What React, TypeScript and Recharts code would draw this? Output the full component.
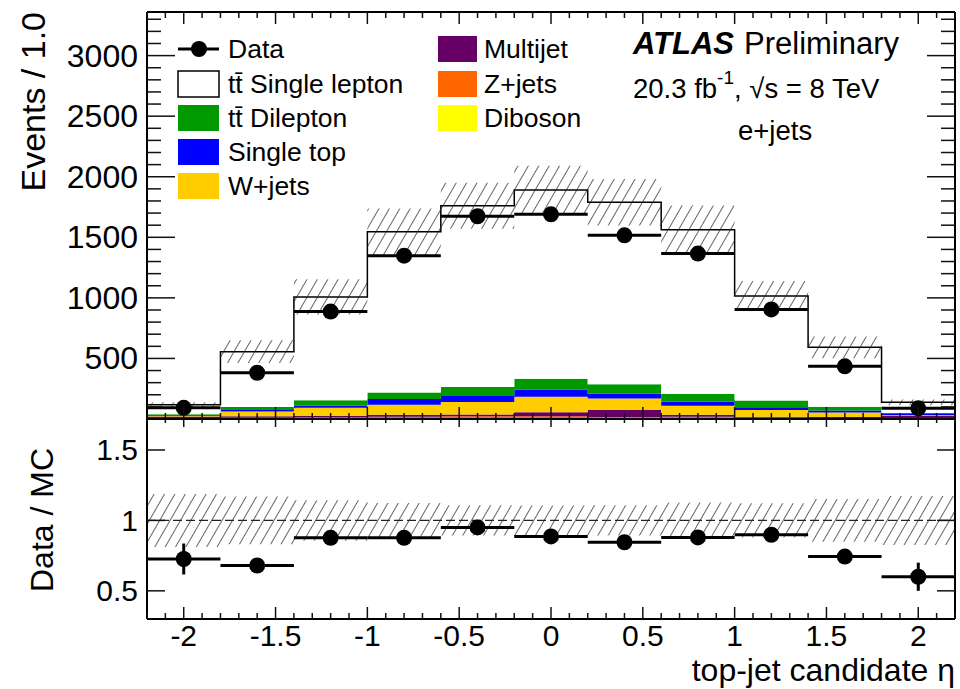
import React from 'react';
import { ComposedChart, Area, Scatter, ErrorBar, XAxis, YAxis, ReferenceLine } from 'recharts';

// ─── Binning: top-jet candidate η, 0.4 wide bins ──────────────────────────────
const binCenters = [-2.0, -1.6, -1.2, -0.8, -0.4, 0.0, 0.4, 0.8, 1.2, 1.6, 2.0];
const binEdges = [-2.2, -1.8, -1.4, -1.0, -0.6, -0.2, 0.2, 0.6, 1.0, 1.4, 1.8, 2.2];

// ─── MC stack (events / bin), bottom → top ────────────────────────────────────
const diboson = [1, 2, 3, 4, 5, 6, 4, 4, 3, 2, 1];
const zJets = [3, 8, 10, 14, 18, 16, 12, 14, 8, 7, 4];
const multijet = [17, 12, 12, 17, 14, 33, 61, 17, 8, 8, 23];
const wJets = [4, 39, 67, 83, 103, 128, 92, 75, 56, 36, 6];
const singleTop = [6, 14, 19, 47, 50, 61, 39, 33, 22, 17, 8];
const ttDilepton = [8, 25, 44, 53, 75, 89, 78, 64, 56, 31, 8];
const ttSingleLepton = [78, 456, 853, 1327, 1495, 1557, 1504, 1355, 862, 491, 88];

// total MC uncertainty (hatched band), absolute events
const mcUncertainty = [22, 94, 145, 192, 190, 200, 192, 200, 124, 90, 24];

// ─── Data ─────────────────────────────────────────────────────────────────────
const dataEvents = [92, 382, 887, 1348, 1674, 1690, 1516, 1366, 905, 435, 88];
const ratioValues = [0.726, 0.68, 0.876, 0.876, 0.95, 0.886, 0.845, 0.879, 0.898, 0.743, 0.6];
const ratioErrors = [0.11, 0.03, 0.02, 0.02, 0.02, 0.02, 0.02, 0.02, 0.02, 0.03, 0.1];

// ─── Tick labels ──────────────────────────────────────────────────────────────
const xMajorTicks = [-2, -1.5, -1, -0.5, 0, 0.5, 1, 1.5, 2];
const xTickLabels = ['-2', '-1.5', '-1', '-0.5', '0', '0.5', '1', '1.5', '2'];
const yTopLabels = [500, 1000, 1500, 2000, 2500, 3000];
const ratioTicks = [0.5, 1, 1.5];
const ratioTickLabels = ['0.5', '1', '1.5'];

// ─── Legend ───────────────────────────────────────────────────────────────────
const legendLeftLabels = ['Data', 'tt\u0304 Single lepton', 'tt\u0304 Dilepton', 'Single top', 'W+jets'];
const legendLeftColors = ['', '#ffffff', '#009a00', '#0000ff', '#ffcc00'];
const legendRightLabels = ['Multijet', 'Z+jets', 'Diboson'];
const legendRightColors = ['#660066', '#ff6600', '#ffff00'];

const FONT = '"Liberation Sans", Arial, Helvetica, sans-serif';

const near = (a: number, b: number) => Math.abs(a - b) < 1e-6;

// minor x ticks every 0.1 over the full range
const xTicks = Array.from({ length: 45 }, (_, i) => Math.round((-2.2 + i * 0.1) * 10) / 10);
const yTopTicks = Array.from({ length: 34 }, (_, i) => i * 100);

// step rows at bin edges (last edge repeats last bin)
const stepRows = binEdges.map((x, i) => {
  const b = Math.min(i, binCenters.length - 1);
  const total =
    diboson[b] + zJets[b] + multijet[b] + wJets[b] + singleTop[b] + ttDilepton[b] + ttSingleLepton[b];
  const rel = mcUncertainty[b] / total;
  return {
    x,
    diboson: diboson[b],
    zJets: zJets[b],
    multijet: multijet[b],
    wJets: wJets[b],
    singleTop: singleTop[b],
    ttDilepton: ttDilepton[b],
    ttSingleLepton: ttSingleLepton[b],
    band: [total - mcUncertainty[b], total + mcUncertainty[b]],
    ratioBand: [1 - rel, 1 + rel],
  };
});

const dataRows = binCenters.map((x, i) => ({ x, y: dataEvents[i], xerr: 0.2 }));
const ratioRows = binCenters.map((x, i) => ({ x, y: ratioValues[i], xerr: 0.2, yerr: ratioErrors[i] }));

// ─── Tick renderers (ROOT style, inward ticks) ────────────────────────────────
const xTickRenderer =
  (side: 'top' | 'bottom', majorLen: number, minorLen: number, labels: boolean) => (props: any) => {
    const { x, y, payload } = props;
    const v = payload.value as number;
    const idx = xMajorTicks.findIndex((m) => near(m, v));
    const len = idx >= 0 ? majorLen : minorLen;
    const sgn = side === 'bottom' ? -1 : 1;
    return (
      <g>
        <line x1={x} x2={x} y1={y} y2={y + sgn * len} stroke="#111" strokeWidth={1.5} />
        {labels && idx >= 0 && (
          <text x={x} y={y + 16} textAnchor="middle" dominantBaseline="central" fontSize={30} fontFamily={FONT} fill="#000">
            {xTickLabels[idx]}
          </text>
        )}
      </g>
    );
  };

const yTopTickRenderer = (side: 'left' | 'right') => (props: any) => {
  const { x, y, payload } = props;
  const v = payload.value as number;
  const major = v % 500 === 0;
  const len = major ? 28 : 14;
  const sgn = side === 'left' ? 1 : -1;
  const labelled = side === 'left' && yTopLabels.includes(v);
  return (
    <g>
      <line x1={x} x2={x + sgn * len} y1={y} y2={y} stroke="#111" strokeWidth={1.5} />
      {labelled && (
        <text x={x - 9} y={y} textAnchor="end" dominantBaseline="central" fontSize={32} fontFamily={FONT} fill="#000">
          {v}
        </text>
      )}
    </g>
  );
};

const yRatioTickRenderer = (side: 'left' | 'right') => (props: any) => {
  const { x, y, payload } = props;
  const v = payload.value as number;
  const idx = ratioTicks.findIndex((m) => near(m, v));
  const sgn = side === 'left' ? 1 : -1;
  return (
    <g>
      <line x1={x} x2={x + sgn * 18} y1={y} y2={y} stroke="#111" strokeWidth={1.5} />
      {side === 'left' && idx >= 0 && (
        <text x={x - 9} y={y} textAnchor="end" dominantBaseline="central" fontSize={30} fontFamily={FONT} fill="#000">
          {ratioTickLabels[idx]}
        </text>
      )}
    </g>
  );
};

const dot = (p: any) => <circle cx={p.cx} cy={p.cy} r={8} fill="#000" />;

const frame = { stroke: '#000', strokeWidth: 2 };

function Legend() {
  const rowsY = [49, 84, 118, 152, 186];
  return (
    <g fontFamily={FONT} fontSize={26.5} fill="#000">
      {legendLeftLabels.map((label, i) => (
        <g key={label}>
          {i === 0 ? (
            <g>
              <line x1={178} x2={219} y1={rowsY[i]} y2={rowsY[i]} stroke="#000" strokeWidth={3} />
              <circle cx={199} cy={rowsY[i]} r={8} fill="#000" />
            </g>
          ) : (
            <rect
              x={178}
              y={rowsY[i] - 13}
              width={41}
              height={26}
              fill={legendLeftColors[i]}
              stroke={i === 1 ? '#000' : 'none'}
              strokeWidth={1.5}
            />
          )}
          <text x={228} y={rowsY[i]} dominantBaseline="central">
            {label}
          </text>
        </g>
      ))}
      {legendRightLabels.map((label, i) => (
        <g key={label}>
          <rect x={438} y={rowsY[i] - 13} width={39} height={26} fill={legendRightColors[i]} />
          <text x={484} y={rowsY[i]} dominantBaseline="central">
            {label}
          </text>
        </g>
      ))}
    </g>
  );
}

export default function App() {
  return (
    <div style={{ position: 'absolute', left: 0, top: 0, width: 960, height: 689, background: '#fff', fontFamily: FONT }}>
      <svg width={0} height={0} style={{ position: 'absolute' }}>
        <defs>
          <pattern id="hatch" width={9} height={9} patternUnits="userSpaceOnUse" patternTransform="rotate(30)">
            <line x1={0} y1={0} x2={0} y2={9} stroke="#222" strokeWidth={1.4} />
          </pattern>
        </defs>
      </svg>

      {/* ─── Top panel: stacked prediction vs data ─── */}
      <div style={{ position: 'absolute', left: 0, top: 0 }}>
        <ComposedChart width={960} height={420} data={stepRows} margin={{ top: 11, right: 4, bottom: 0, left: 146 }}>
          <XAxis dataKey="x" type="number" domain={[-2.2, 2.2]} allowDataOverflow ticks={xTicks} interval={0}
            height={1} tickSize={0} tickMargin={0} tickLine={false} axisLine={frame}
            tick={xTickRenderer('bottom', 12, 6, false)} />
          <XAxis xAxisId="top" orientation="top" dataKey="x" type="number" domain={[-2.2, 2.2]} allowDataOverflow
            ticks={xTicks} interval={0} height={1} tickSize={0} tickMargin={0} tickLine={false} axisLine={frame}
            tick={xTickRenderer('top', 12, 6, false)} />
          <YAxis type="number" domain={[0, 3360]} allowDataOverflow ticks={yTopTicks} interval={0} width={1}
            tickSize={0} tickMargin={0} tickLine={false} axisLine={frame} tick={yTopTickRenderer('left')} />
          <YAxis yAxisId="right" orientation="right" type="number" domain={[0, 3360]} allowDataOverflow
            ticks={yTopTicks} interval={0} width={1} tickSize={0} tickMargin={0} tickLine={false} axisLine={frame}
            tick={yTopTickRenderer('right')} />

          <Area type="stepAfter" dataKey="diboson" stackId="mc" fill="#ffff00" fillOpacity={1} stroke="none" isAnimationActive={false} />
          <Area type="stepAfter" dataKey="zJets" stackId="mc" fill="#ff6600" fillOpacity={1} stroke="none" isAnimationActive={false} />
          <Area type="stepAfter" dataKey="multijet" stackId="mc" fill="#660066" fillOpacity={1} stroke="none" isAnimationActive={false} />
          <Area type="stepAfter" dataKey="wJets" stackId="mc" fill="#ffcc00" fillOpacity={1} stroke="none" isAnimationActive={false} />
          <Area type="stepAfter" dataKey="singleTop" stackId="mc" fill="#0000ff" fillOpacity={1} stroke="none" isAnimationActive={false} />
          <Area type="stepAfter" dataKey="ttDilepton" stackId="mc" fill="#009a00" fillOpacity={1} stroke="none" isAnimationActive={false} />
          <Area type="stepAfter" dataKey="ttSingleLepton" stackId="mc" fill="#ffffff" fillOpacity={1} stroke="#000" strokeWidth={1.5} isAnimationActive={false} />
          <Area type="stepAfter" dataKey="band" fill="url(#hatch)" fillOpacity={1} stroke="none" isAnimationActive={false} />

          <Scatter data={dataRows} dataKey="y" shape={dot} isAnimationActive={false}>
            <ErrorBar dataKey="xerr" direction="x" width={0} stroke="#000" strokeWidth={3} isAnimationActive={false} />
          </Scatter>
        </ComposedChart>
      </div>

      {/* ─── Bottom panel: Data / MC ─── */}
      <div style={{ position: 'absolute', left: 0, top: 418 }}>
        <ComposedChart width={960} height={271} data={stepRows} margin={{ top: 0, right: 4, bottom: 69, left: 146 }}>
          <XAxis dataKey="x" type="number" domain={[-2.2, 2.2]} allowDataOverflow ticks={xTicks} interval={0}
            height={1} tickSize={0} tickMargin={0} tickLine={false} axisLine={frame}
            tick={xTickRenderer('bottom', 12, 6, true)} />
          <XAxis xAxisId="top" orientation="top" dataKey="x" type="number" domain={[-2.2, 2.2]} allowDataOverflow
            ticks={xTicks} interval={0} height={1} tickSize={0} tickMargin={0} tickLine={false} axisLine={frame}
            tick={xTickRenderer('top', 8, 4, false)} />
          <YAxis type="number" domain={[0.3, 1.72]} allowDataOverflow ticks={ratioTicks} interval={0} width={1}
            tickSize={0} tickMargin={0} tickLine={false} axisLine={frame} tick={yRatioTickRenderer('left')} />
          <YAxis yAxisId="right" orientation="right" type="number" domain={[0.3, 1.72]} allowDataOverflow
            ticks={ratioTicks} interval={0} width={1} tickSize={0} tickMargin={0} tickLine={false} axisLine={frame}
            tick={yRatioTickRenderer('right')} />

          <Area type="stepAfter" dataKey="ratioBand" fill="url(#hatch)" fillOpacity={1} stroke="none" isAnimationActive={false} />
          <ReferenceLine y={1} stroke="#222" strokeWidth={1.3} strokeDasharray="9 4" />

          <Scatter data={ratioRows} dataKey="y" shape={dot} isAnimationActive={false}>
            <ErrorBar dataKey="xerr" direction="x" width={0} stroke="#000" strokeWidth={3} isAnimationActive={false} />
            <ErrorBar dataKey="yerr" direction="y" width={0} stroke="#000" strokeWidth={3} isAnimationActive={false} />
          </Scatter>
        </ComposedChart>
      </div>

      {/* ─── Titles, legend, ATLAS label ─── */}
      <svg width={960} height={689} style={{ position: 'absolute', left: 0, top: 0, pointerEvents: 'none' }}>
        <text x={45} y={12} transform="rotate(-90 45 12)" textAnchor="end" fontSize={34} fontFamily={FONT} fill="#000">
          Events / 1.0
        </text>
        <text x={53} y={520} transform="rotate(-90 53 520)" textAnchor="middle" fontSize={32} fontFamily={FONT} fill="#000">
          Data / MC
        </text>
        <text x={955} y={681} textAnchor="end" fontSize={32} fontFamily={FONT} fill="#000">
          top-jet candidate η
        </text>

        <Legend />

        <text x={633} y={43} dominantBaseline="central" fontFamily={FONT} fontSize={31} fill="#000">
          <tspan fontWeight="bold" fontStyle="italic">ATLAS</tspan>
          <tspan dx={10}>Preliminary</tspan>
        </text>
        <text x={633} y={88} dominantBaseline="central" fontFamily={FONT} fontSize={27.5} fill="#000">
          20.3 fb
          <tspan fontSize={19} dy={-11}>-1</tspan>
          <tspan dy={11}>, √s = 8 TeV</tspan>
        </text>
        <text x={738} y={130} dominantBaseline="central" fontFamily={FONT} fontSize={27.5} fill="#000">
          e+jets
        </text>
      </svg>
    </div>
  );
}
